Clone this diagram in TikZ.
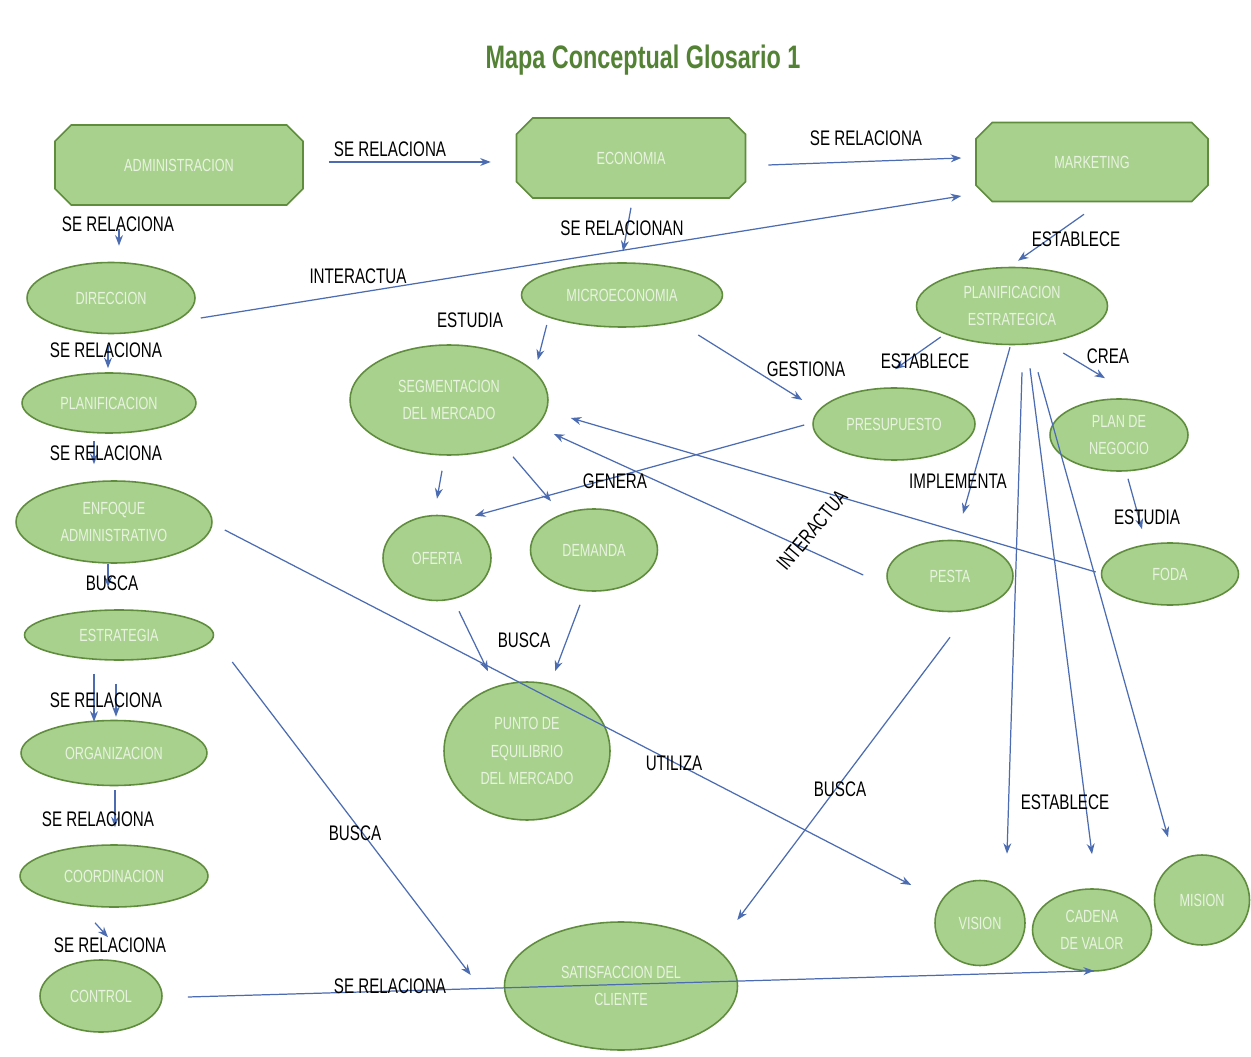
\documentclass[tikz,border=0pt]{standalone}
\usepackage{fontspec}
\setmainfont{Liberation Sans}[FakeStretch=0.72]
\usetikzlibrary{arrows, arrows.meta, positioning, shapes.geometric, shapes.misc}

\definecolor{boxFill}{RGB}{169,209,142}
\definecolor{boxLine}{RGB}{96,140,62}
\definecolor{boxText}{RGB}{232,243,224}
\definecolor{linkBlue}{RGB}{76,108,178}
\definecolor{titleGreen}{RGB}{84,130,53}

\begin{document}
\begin{tikzpicture}[x=0.02cm, y=-0.02cm]
		\tikzstyle{Concept} = [chamfered rectangle, chamfered rectangle xsep=.2cm, chamfered rectangle ysep=.2cm, inner sep=0pt, draw=boxLine, line width=0.9pt, fill=boxFill, text=boxText, font=\fontsize{10}{15.5}\selectfont, align=center]
		\tikzstyle{Idea} = [ellipse, inner sep=0pt, draw=boxLine, line width=0.9pt, fill=boxFill, text=boxText, font=\fontsize{10}{15.5}\selectfont, align=center]
		\tikzstyle{LinkLabel} = [inner sep=1pt, text=black, font=\fontsize{12}{14}\selectfont]
		\tikzstyle{arrow} = [draw=linkBlue, line width=0.7pt, ->, >={Stealth[length=6pt, width=4.5pt]}]

		%\draw[step=50,gray,very thin] (0,0) grid (1251,1057);

		\fill [white] (0,0) rectangle (1251,1057);
		\useasboundingbox (0,0) rectangle (1251,1057);

		\node (titleNode) [text=titleGreen, font=\bfseries\fontsize{18.5}{22}\selectfont] at (643,60) {Mapa Conceptual Glosario 1};

		\node (adminNode) [Concept, minimum width=4.96cm, minimum height=1.6cm] at (179,165) {ADMINISTRACION};
		\node (econNode) [Concept, minimum width=4.58cm, minimum height=1.6cm] at (631,158) {ECONOMIA};
		\node (mktNode) [Concept, minimum width=4.64cm, minimum height=1.58cm] at (1092,162) {MARKETING};

		\node (dirNode) [Idea, minimum width=3.36cm, minimum height=1.42cm] at (111,298) {DIRECCION};
		\node (planNode) [Idea, minimum width=3.48cm, minimum height=1.2cm] at (109,403) {PLANIFICACION};
		\node (enfNode) [Idea, minimum width=3.92cm, minimum height=1.64cm] at (114,522) {ENFOQUE\\ADMINISTRATIVO};
		\node (estNode) [Idea, minimum width=3.78cm, minimum height=1.0cm] at (119,635) {ESTRATEGIA};
		\node (orgNode) [Idea, minimum width=3.72cm, minimum height=1.3cm] at (114,753) {ORGANIZACION};
		\node (coordNode) [Idea, minimum width=3.76cm, minimum height=1.24cm] at (114,876) {COORDINACION};
		\node (ctrlNode) [Idea, minimum width=2.44cm, minimum height=1.44cm] at (101,996) {CONTROL};

		\node (microNode) [Idea, minimum width=4.02cm, minimum height=1.28cm] at (622,295) {MICROECONOMIA};
		\node (segNode) [Idea, minimum width=3.96cm, minimum height=2.2cm] at (449,400) {SEGMENTACION\\DEL MERCADO};
		\node (presNode) [Idea, minimum width=3.24cm, minimum height=1.44cm] at (894,424) {PRESUPUESTO};
		\node (peNode) [Idea, minimum width=3.82cm, minimum height=1.54cm] at (1012,306) {PLANIFICACION\\ESTRATEGICA};
		\node (negNode) [Idea, minimum width=2.76cm, minimum height=1.44cm] at (1119,435) {PLAN DE\\NEGOCIO};
		\node (ofeNode) [Idea, minimum width=2.16cm, minimum height=1.7cm] at (437,558) {OFERTA};
		\node (demNode) [Idea, minimum width=2.54cm, minimum height=1.64cm] at (594,550) {DEMANDA};
		\node (pestNode) [Idea, minimum width=2.52cm, minimum height=1.42cm] at (950,576) {PESTA};
		\node (fodaNode) [Idea, minimum width=2.74cm, minimum height=1.24cm] at (1170,574) {FODA};
		\node (ptoNode) [Idea, minimum width=3.32cm, minimum height=2.76cm] at (527,751) {PUNTO DE\\EQUILIBRIO\\DEL MERCADO};
		\node (satNode) [Idea, minimum width=4.66cm, minimum height=2.56cm] at (621,986) {SATISFACCION DEL\\CLIENTE};
		\node (visNode) [Idea, minimum width=1.8cm, minimum height=1.7cm] at (980,923) {VISION};
		\node (cadNode) [Idea, minimum width=2.38cm, minimum height=1.64cm] at (1092,930) {CADENA\\DE VALOR};
		\node (misNode) [Idea, minimum width=1.9cm, minimum height=1.8cm] at (1202,900) {MISION};

		\draw [arrow] ([shift={(25,-3)}]adminNode.east) -- ([shift={(-25,4)}]econNode.west);
		\draw [arrow] ([shift={(22,7)}]econNode.east) -- ([shift={(-14,-4)}]mktNode.west);
		\draw [arrow] ([shift={(-60,23)}]adminNode.south) -- ([shift={(8,-16)}]dirNode.north);
		\draw [arrow] ([shift={(5,20)}]dirNode.east) -- ([shift={(-14,34)}]mktNode.west);
		\draw [arrow] ([shift={(0,9)}]econNode.south) -- ([shift={(1,-11)}]microNode.north);
		\draw [arrow] ([shift={(-8,12)}]mktNode.south) -- ([shift={(6,-6)}]peNode.north);
		\draw [arrow] ([shift={(-3,11)}]dirNode.south) -- ([shift={(-1,-4)}]planNode.north);
		\draw [arrow] ([shift={(-15,7)}]planNode.south) -- ([shift={(-20,-16)}]enfNode.north);
		\draw [arrow] ([shift={(-6,0)}]enfNode.south) -- ([shift={(-11,-22)}]estNode.north);
		\draw [arrow] ([shift={(-25,13)}]estNode.south) -- ([shift={(-20,2)}]orgNode.north);
		\draw [arrow] ([shift={(-3,23)}]estNode.south) -- ([shift={(2,-3)}]orgNode.north);
		\draw [arrow] ([shift={(1,4)}]orgNode.south) -- ([shift={(1,-17)}]coordNode.north);
		\draw [arrow] ([shift={(-19,15)}]coordNode.south) -- ([shift={(7,-22)}]ctrlNode.north);
		\draw [arrow] ([shift={(25,1)}]ctrlNode.east) -- ([shift={(2,-1)}]cadNode.south);
		\draw [arrow] ([shift={(18,27)}]estNode.east) -- ([shift={(-33,-11)}]satNode.west);
		\draw [arrow] ([shift={(12,8)}]enfNode.east) -- ([shift={(-23,-38)}]visNode.west);
		\draw [arrow] ([shift={(26,30)}]microNode.west) -- ([shift={(-11,-40)}]segNode.east);
		\draw [arrow] ([shift={(-25,40)}]microNode.east) -- ([shift={(-10,-24)}]presNode.west);
		\draw [arrow] ([shift={(25,31)}]peNode.west) -- ([shift={(1,-18)}]presNode.north);
		\draw [arrow] ([shift={(-45,47)}]peNode.east) -- ([shift={(-14,-20)}]negNode.north);
		\draw [arrow] ([shift={(-2,2)}]peNode.south) -- ([shift={(13,-26)}]pestNode.north);
		\draw [arrow] ([shift={(10,27)}]peNode.south) -- ([shift={(27,-26)}]visNode.north);
		\draw [arrow] ([shift={(18,23)}]peNode.south) -- ([shift={(0,-34)}]cadNode.north);
		\draw [arrow] ([shift={(26,27)}]peNode.south) -- ([shift={(-34,-17)}]misNode.north);
		\draw [arrow] ([shift={(9,7)}]negNode.south) -- ([shift={(-28,-13)}]fodaNode.north);
		\draw [arrow] ([shift={(-8,1)}]presNode.west) -- ([shift={(38,1)}]ofeNode.north);
		\draw [arrow] ([shift={(-7,15)}]segNode.south) -- ([shift={(0,-16)}]ofeNode.north);
		\draw [arrow] ([shift={(64,1)}]segNode.south) -- ([shift={(-43,-7)}]demNode.north);
		\draw [arrow] ([shift={(22,10)}]ofeNode.south) -- ([shift={(-39,-10)}]ptoNode.north);
		\draw [arrow] ([shift={(-14,13)}]demNode.south) -- ([shift={(28,-10)}]ptoNode.north);
		\draw [arrow] ([shift={(-23,-1)}]pestNode.west) -- ([shift={(5,34)}]segNode.east);
		\draw [arrow] ([shift={(-5,-2)}]fodaNode.west) -- ([shift={(22,18)}]segNode.east);
		\draw [arrow] ([shift={(0,25)}]pestNode.south) -- ([shift={(-1,-66)}]satNode.east);

		\node (relAdmEco) [LinkLabel] at (390,149) {SE RELACIONA};
		\node (relEcoMkt) [LinkLabel] at (866,138) {SE RELACIONA};
		\node (relAdmDir) [LinkLabel] at (118,224) {SE RELACIONA};
		\node (actDirMkt) [LinkLabel] at (358,276) {INTERACTUA};
		\node (relEcoMicro) [LinkLabel] at (622,228) {SE RELACIONAN};
		\node (estMktPe) [LinkLabel] at (1076,239) {ESTABLECE};
		\node (relDirPlan) [LinkLabel] at (106,350) {SE RELACIONA};
		\node (studyMicroSeg) [LinkLabel] at (470,320) {ESTUDIA};
		\node (gestMicroPres) [LinkLabel] at (806,369) {GESTIONA};
		\node (estPePres) [LinkLabel] at (925,361) {ESTABLECE};
		\node (creaPeNeg) [LinkLabel] at (1108,356) {CREA};
		\node (relPlanEnf) [LinkLabel] at (106,453) {SE RELACIONA};
		\node (genPresOfe) [LinkLabel] at (615,481) {GENERA};
		\node (implPePest) [LinkLabel] at (958,481) {IMPLEMENTA};
		\node (actPestSeg) [LinkLabel, rotate=50] at (812,530) {INTERACTUA};
		\node (studyNegFoda) [LinkLabel] at (1147,517) {ESTUDIA};
		\node (buscaEnfEst) [LinkLabel] at (112,583) {BUSCA};
		\node (buscaPto) [LinkLabel] at (524,640) {BUSCA};
		\node (relEstOrg) [LinkLabel] at (106,700) {SE RELACIONA};
		\node (usaEnfVis) [LinkLabel] at (674,763) {UTILIZA};
		\node (buscaPestSat) [LinkLabel] at (840,789) {BUSCA};
		\node (estPeVis) [LinkLabel] at (1065,802) {ESTABLECE};
		\node (relOrgCoord) [LinkLabel] at (98,819) {SE RELACIONA};
		\node (buscaEstSat) [LinkLabel] at (355,833) {BUSCA};
		\node (relCoordCtrl) [LinkLabel] at (110,945) {SE RELACIONA};
		\node (relCtrlCad) [LinkLabel] at (390,986) {SE RELACIONA};
\end{tikzpicture}
\end{document}
